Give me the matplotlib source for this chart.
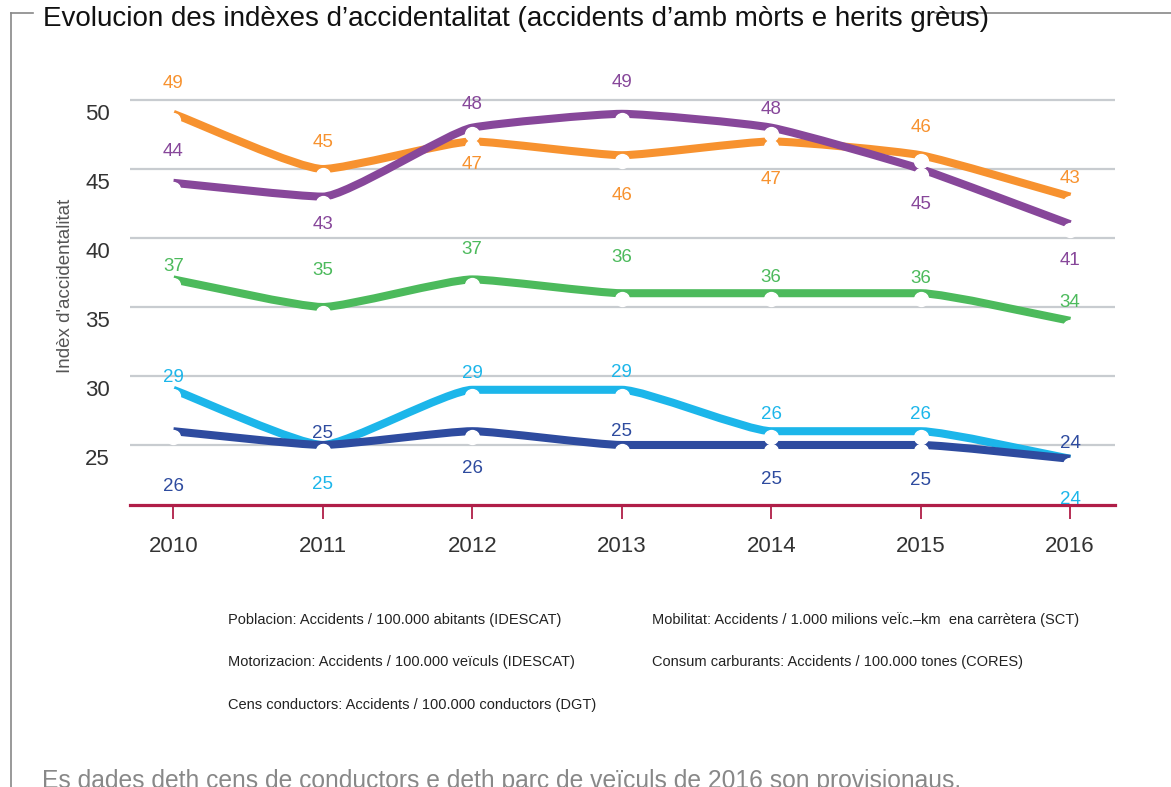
import numpy as np
import matplotlib
matplotlib.use("Agg")
import matplotlib.pyplot as plt
from matplotlib.path import Path
from matplotlib.patches import PathPatch
from matplotlib.lines import Line2D
from matplotlib.transforms import offset_copy

plt.rcParams['font.family'] = ['Liberation Sans', 'DejaVu Sans']

# data
years = [2010, 2011, 2012, 2013, 2014, 2015, 2016]
idx_orange = [49, 45, 47, 46, 47, 46, 43]
idx_purple = [44, 43, 48, 49, 48, 45, 41]
idx_green = [37, 35, 37, 36, 36, 36, 34]
idx_lightblue = [29, 25, 29, 29, 26, 26, 24]
idx_darkblue = [26, 25, 26, 25, 25, 25, 24]

yticks = [25, 30, 35, 40, 45, 50]

legend_left = ["Poblacion: Accidents / 100.000 abitants (IDESCAT)",
               "Motorizacion: Accidents / 100.000 veïculs (IDESCAT)",
               "Cens conductors: Accidents / 100.000 conductors (DGT)"]
legend_right = ["Mobilitat: Accidents / 1.000 milions veÏc.\u2013km  ena carrètera (SCT)",
                "Consum carburants: Accidents / 100.000 tones (CORES)"]

title = "Evolucion des indèxes d\u2019accidentalitat (accidents d\u2019amb mòrts e herits grèus)"
footnote = "Es dades deth cens de conductors e deth parc de veïculs de 2016 son provisionaus."

# label offsets in pixels (positive = above the point)
series = [
    (idx_orange, "#f7922f", [30, 27, -23, -40, -38, 28, 18]),
    (idx_purple, "#87479a", [31, -28, 23, 31, 18, -35, -36]),
    (idx_green, "#4cba5c", [13, 37, 30, 36, 16, 15, 18]),
    (idx_lightblue, "#1cb6ea", [12, -40, 16, 17, 17, 17, -41]),
    (idx_darkblue, "#2e4b9f", [-55, 11, -37, 13, -35, -36, 15]),
]


def smooth_path(x, y, reach=0.16):
    # monotone tangents, short bezier handles -> straight runs with rounded corners
    x = np.asarray(x, float)
    y = np.asarray(y, float)
    n = len(x)
    h = np.diff(x)
    d = np.diff(y) / h
    m = np.zeros(n)
    for i in range(1, n - 1):
        s0, s1 = d[i - 1], d[i]
        p = (s0 * h[i] + s1 * h[i - 1]) / (h[i - 1] + h[i])
        m[i] = (np.sign(s0) + np.sign(s1)) * min(abs(s0), abs(s1), 0.5 * abs(p))
    m[0] = d[0]
    m[-1] = d[-1]
    verts = [(x[0], y[0])]
    codes = [Path.MOVETO]
    for i in range(n - 1):
        dx = h[i] * reach
        verts += [(x[i] + dx, y[i] + m[i] * dx),
                  (x[i + 1] - dx, y[i + 1] - m[i + 1] * dx),
                  (x[i + 1], y[i + 1])]
        codes += [Path.CURVE4] * 3
    return Path(verts, codes)


fig = plt.figure(figsize=(11.71, 7.87), dpi=100)
ax = fig.add_axes([0.111, 0.3583, 0.8412, 0.5672])
ax.set_xlim(2009.71, 2016.30)
ax.set_ylim(20.65, 53)

for s in ["top", "right", "left"]:
    ax.spines[s].set_visible(False)
ax.spines["bottom"].set_color("#b01e48")
ax.spines["bottom"].set_linewidth(2.3)

ax.set_yticks(yticks)
ax.yaxis.grid(True, color="#c8ccd0", linewidth=1.6)
ax.set_axisbelow(True)
ax.tick_params(axis="y", length=0, labelsize=16, labelcolor="#333333")
shift = offset_copy(ax.get_yaxis_transform(which="tick1"), fig, x=-20, y=-12, units="dots")
for lab in ax.get_yticklabels():
    lab.set_transform(shift)
    lab.set_horizontalalignment("right")

ax.set_xticks(years)
ax.set_xticklabels([str(y) for y in years])
ax.tick_params(axis="x", direction="out", length=10, width=1.3, color="#b01e48",
               pad=12, labelsize=16, labelcolor="#333333")

ax.set_ylabel("Indèx d'accidentalitat", fontsize=13.5, color="#555555")
ax.yaxis.set_label_coords(-0.057, 0.49)

marker_tr = offset_copy(ax.transData, fig, x=0, y=-6, units="dots")

for vals, col, offs in series:
    ax.add_patch(PathPatch(smooth_path(years, vals), fill=False, edgecolor=col,
                           linewidth=5.8, capstyle="butt", joinstyle="round", zorder=3))

for vals, col, offs in series:
    ax.plot(years, vals, linestyle="none", marker="o", markersize=10,
            markerfacecolor="white", markeredgecolor="white", transform=marker_tr,
            zorder=4, clip_on=False)

for vals, col, offs in series:
    for x, v, o in zip(years, vals, offs):
        ax.annotate(str(v), (x, v), xytext=(0, o * 0.72), textcoords="offset points",
                    ha="center", va="center", fontsize=13.5, color=col, zorder=5)

# legend (text only)
rows_y = [620, 662, 705]
for i, t in enumerate(legend_left):
    fig.text(228 / 1171, 1 - rows_y[i] / 787, t, fontsize=10.5, color="#222222", va="center")
for i, t in enumerate(legend_right):
    fig.text(652 / 1171, 1 - rows_y[i] / 787, t, fontsize=10.5, color="#222222", va="center")

# frame and titles
fig.add_artist(Line2D([11 / 1171, 11 / 1171], [0, 1 - 13 / 787], color="#888888", linewidth=1.2))
fig.add_artist(Line2D([11 / 1171, 33 / 1171], [1 - 13 / 787, 1 - 13 / 787], color="#888888", linewidth=1.2))
fig.add_artist(Line2D([935 / 1171, 1], [1 - 13 / 787, 1 - 13 / 787], color="#888888", linewidth=1.2))
fig.text(43 / 1171, 1 - 26 / 787, title, fontsize=20, color="#111111", va="baseline")
fig.text(42 / 1171, 1 - 788 / 787, footnote, fontsize=17.7, color="#888888", va="baseline")

fig.savefig("out.png", dpi=100, facecolor="white")
